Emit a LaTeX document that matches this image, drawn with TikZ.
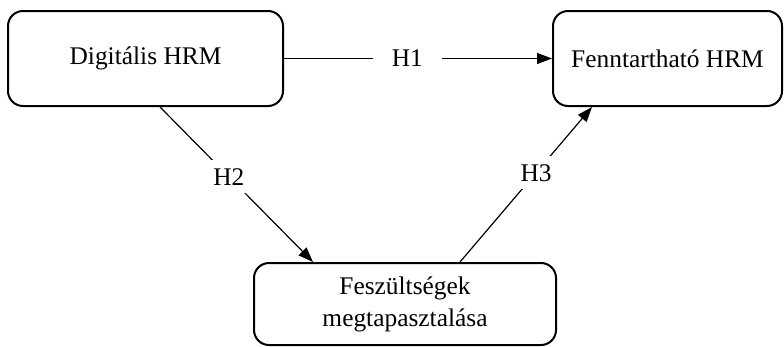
\documentclass[tikz,border=0pt]{standalone}
\usepackage{fontspec}
\setmainfont{Liberation Serif}
\usetikzlibrary{arrows.meta}
\begin{document}
\begin{tikzpicture}[x=1pt,y=-1pt,
  box/.style={draw, line width=2pt, rounded corners=15pt, align=center, inner sep=0pt,
    font=\fontsize{25.4}{32}\selectfont},
  conn/.style={line width=1.2pt, -{Triangle[length=15pt,width=11pt]}},
  lbl/.style={fill=white, inner xsep=4pt, inner ysep=8pt, font=\fontsize{25.4}{30}\selectfont}]
\useasboundingbox (0,0) rectangle (784,346);
\node[box, minimum width=275pt, minimum height=95pt] (d) at (145.5,58.5) {Digitális HRM};
\node[box, minimum width=229pt, minimum height=95pt] (f) at (667.5,58.5) {Fenntartható HRM};
\node[box, minimum width=302pt, minimum height=82pt] (e) at (405,304) {Feszültségek\\megtapasztalása};
\draw[conn] (d.east) -- node[lbl, pos=0.46, inner xsep=19pt] {H1} (f.west);
\draw[conn] ([xshift=14.5pt]d.south) -- node[lbl, pos=0.45] {H2} ([xshift=-92pt]e.north);
\draw[conn] ([xshift=55pt]e.north) -- node[lbl, pos=0.576] {H3} ([xshift=-75.5pt]f.south);
\end{tikzpicture}
\end{document}
